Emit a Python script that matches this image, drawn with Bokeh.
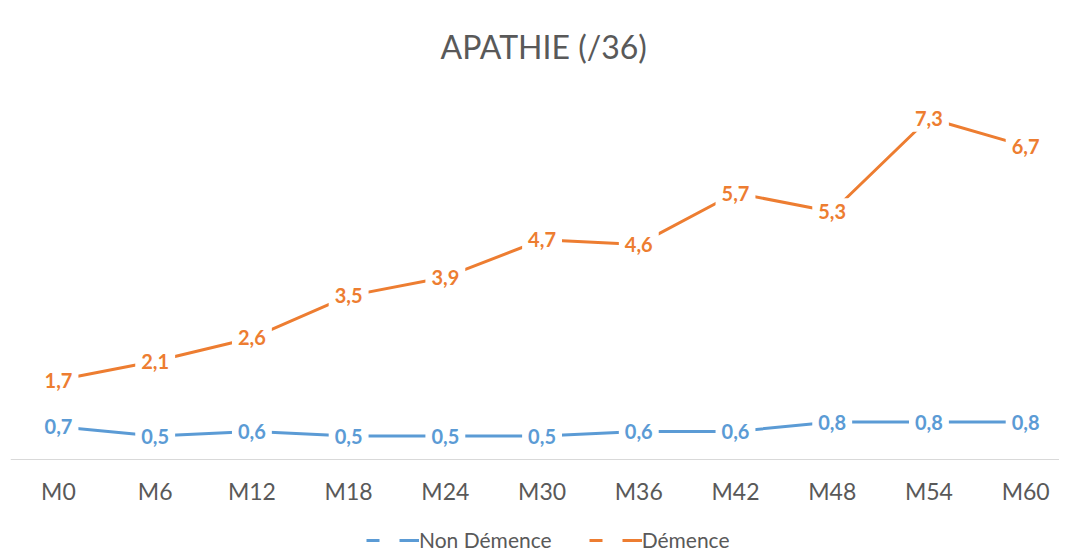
from bokeh.plotting import figure
from bokeh.models import ColumnDataSource, Legend, LegendItem, Range1d
from bokeh.core.properties import value
from bokeh.embed import file_html
from bokeh.resources import INLINE

categories = ["M0", "M6", "M12", "M18", "M24", "M30", "M36", "M42", "M48", "M54", "M60"]
non_demence = [0.7, 0.5, 0.6, 0.5, 0.5, 0.5, 0.6, 0.6, 0.8, 0.8, 0.8]
demence = [1.7, 2.1, 2.6, 3.5, 3.9, 4.7, 4.6, 5.7, 5.3, 7.3, 6.7]

BLUE = "#5B9BD5"
ORANGE = "#ED7D31"
GRAY = "#595959"
FONT = "Lato"

xs = list(range(len(categories)))

p = figure(width=1059, height=552, output_backend="svg", toolbar_location=None,
           x_range=Range1d(-0.496, 10.35), y_range=Range1d(-1.99, 8),
           min_border_left=10, min_border_right=0, min_border_top=85, min_border_bottom=0,
           title="APATHIE (/36)")
p.outline_line_color = None
p.background_fill_color = "white"
p.border_fill_color = "white"

p.title.align = "left"
p.title.offset = 430
p.title.vertical_align = "top"
p.title.text_font = FONT
p.title.text_font_style = "normal"
p.title.text_font_size = "32px"
p.title.text_color = GRAY
p.title.standoff = 36

p.yaxis.visible = False
p.xgrid.visible = False
p.ygrid.visible = False

ax = p.xaxis[0]
ax.fixed_location = 0
ax.ticker = xs
ax.major_label_overrides = {i: c for i, c in enumerate(categories)}
ax.axis_line_color = "#D9D9D9"
ax.axis_line_width = 1
ax.major_tick_line_color = None
ax.minor_tick_line_color = None
ax.major_label_text_font = FONT
ax.major_label_text_font_size = "23px"
ax.major_label_text_color = GRAY
ax.major_label_standoff = 12

src_nd = ColumnDataSource(dict(x=xs, y=non_demence, t=[f"{v:.1f}".replace(".", ",") for v in non_demence]))
src_d = ColumnDataSource(dict(x=xs, y=demence, t=[f"{v:.1f}".replace(".", ",") for v in demence]))

p.line("x", "y", source=src_nd, line_color=BLUE, line_width=3)
p.line("x", "y", source=src_d, line_color=ORANGE, line_width=3)

for src, col in ((src_nd, BLUE), (src_d, ORANGE)):
    p.text("x", "y", text="t", source=src, text_align="center", text_baseline="middle",
           text_color=col, text_font=value(FONT), text_font_style="bold", text_font_size="20px",
           background_fill_color="white", padding=6)

# dashed legend symbols
leg_nd = p.line([float("nan")], [float("nan")], line_color=BLUE, line_width=3, line_dash="13 20 20 1")
leg_d = p.line([float("nan")], [float("nan")], line_color=ORANGE, line_width=3, line_dash="13 20 20 1")

legend = Legend(items=[LegendItem(label="Non Démence", renderers=[leg_nd]),
                       LegendItem(label="Démence", renderers=[leg_d])],
                orientation="horizontal", location=(356, 0),
                label_text_font=FONT, label_text_font_size="21px", label_text_color=GRAY,
                glyph_width=53, glyph_height=18, label_height=18, label_standoff=0, spacing=37,
                border_line_color=None, background_fill_alpha=0, margin=0, padding=0)
p.add_layout(legend, "center")

open("out.html", "w").write(file_html(p, INLINE))
